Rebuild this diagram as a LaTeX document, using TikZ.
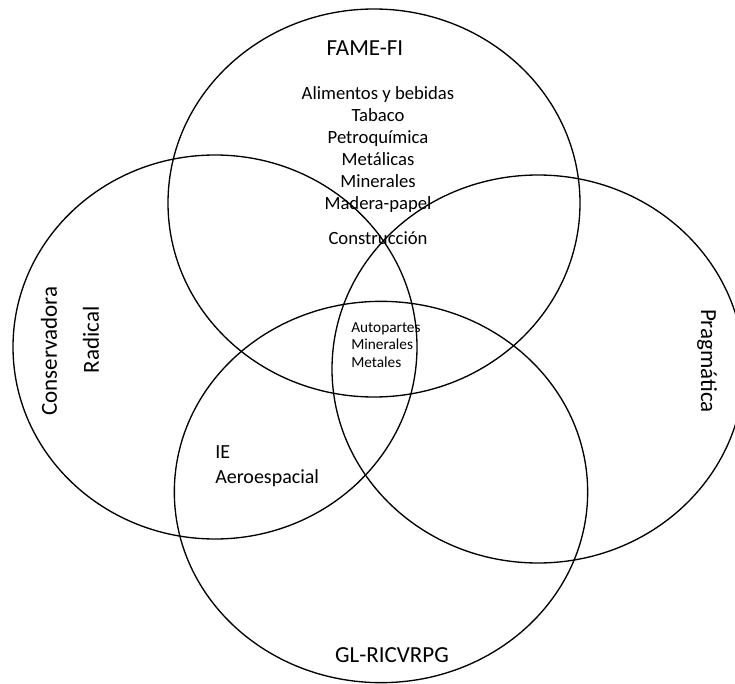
\documentclass[tikz,border=0pt]{standalone}
\usepackage{fontspec}
\setmainfont{Carlito}
\begin{document}
\begin{tikzpicture}[x=0.75pt,y=-0.75pt,
  setline/.style={draw=black,line width=1pt},
  big/.style={font=\fontsize{17.25}{20}\selectfont,inner sep=0pt},
  mid/.style={font=\fontsize{14}{16.6}\selectfont,inner sep=0pt,align=center},
  iefont/.style={font=\fontsize{15}{18.75}\selectfont,inner sep=0pt,align=left},
  small/.style={font=\fontsize{11.5}{13.1}\selectfont,inner sep=0pt,align=left}]
\useasboundingbox (0,0) rectangle (735,684);
\coordinate (ctop) at (374,203);
\coordinate (cleft) at (215,347);
\coordinate (cright) at (538,369);
\coordinate (cbottom) at (381,492);
\draw[setline] (ctop) ellipse [x radius=154.5pt, y radius=145.5pt];
\draw[setline] (cleft) ellipse [x radius=151.5pt, y radius=144pt];
\draw[setline] (cright) ellipse [x radius=154.5pt, y radius=145.5pt];
\draw[setline] (cbottom) ellipse [x radius=155pt, y radius=143pt];
\node[big] (fame) at (365,48) {FAME-FI};
\node[mid,anchor=north] (list) at (378,86) {Alimentos y bebidas\\Tabaco\\Petroquímica\\Metálicas\\Minerales\\Madera-papel\\[9.5pt]Construcción};
\node[small,anchor=west] (core) at (351,345) {Autopartes\\Minerales\\Metales};
\node[iefont,anchor=west] (ie) at (215,466) {IE\\Aeroespacial};
\node[big] (gl) at (392,655) {GL-RICVRPG};
\node[big,rotate=90] (cons) at (49,351) {Conservadora};
\node[big,rotate=90] (rad) at (91,340) {Radical};
\node[big,rotate=-90] (prag) at (707,361) {Pragmática};
\end{tikzpicture}
\end{document}
